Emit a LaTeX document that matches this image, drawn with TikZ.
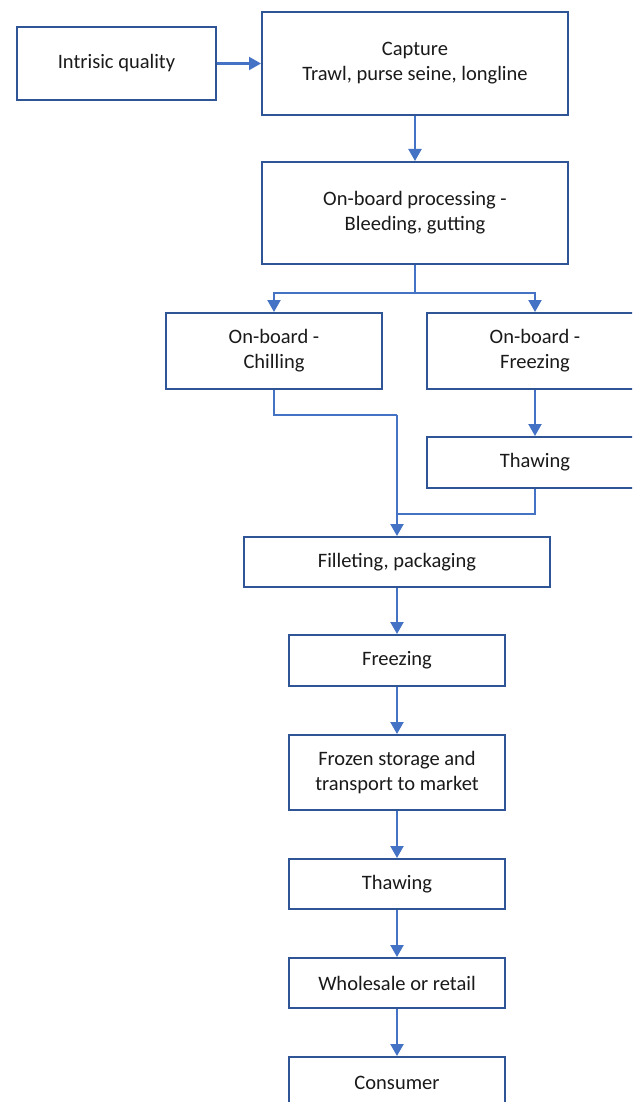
\documentclass[tikz,border=0pt]{standalone}
\usepackage{fontspec}
\setmainfont{Carlito}
\usetikzlibrary{arrows.meta}
\definecolor{boxblue}{HTML}{2F5597}
\definecolor{linkblue}{HTML}{4472C4}
\definecolor{txt}{HTML}{1A1A1A}
\tikzset{
  stepbox/.style={draw=boxblue, line width=2pt, fill=white, inner sep=0pt,
    align=center, text=txt, font=\fontsize{20.5}{25}\selectfont},
  link/.style={draw=linkblue, line width=2.2pt},
  arr/.style={link, -{Triangle[length=12pt,width=13pt]}},
}
\newcommand{\bx}[6]{% name, x1, y1, x2, y2, text
  \node[stepbox, minimum width={#4-#2}, minimum height={#5-#3}]
    (#1) at ({(#2+#4)/2},{(#3+#5)/2}) {#6};}
\begin{document}
\begin{tikzpicture}[x=1pt,y=-1pt]
\useasboundingbox (0,0) rectangle (632,1102);
\clip (0,0) rectangle (632,1102);
\fill[white] (0,0) rectangle (632,1102);
\bx{intr}{17}{27}{216}{100}{Intrisic quality}
\bx{cap}{262}{12}{568}{115}{Capture\\Trawl, purse seine, longline}
\bx{proc}{262}{162}{568}{264}{On-board processing -\\Bleeding, gutting}
\bx{chill}{166}{313}{382}{389}{On-board -\\Chilling}
\bx{frz}{427}{313}{643}{389}{On-board -\\Freezing}
\bx{thawa}{427}{437}{643}{488}{Thawing}
\bx{fill}{244}{537}{550}{587}{Filleting, packaging}
\bx{freeze}{289}{635}{505}{686}{Freezing}
\bx{store}{289}{735}{505}{810}{Frozen storage and\\transport to market}
\bx{thawb}{289}{859}{505}{909}{Thawing}
\bx{whole}{289}{958}{505}{1008}{Wholesale or retail}
\bx{cons}{289}{1057}{505}{1108}{Consumer}

\coordinate (b1) at (415,293);
\coordinate (c1) at (397,415);
\coordinate (c2) at (397,514);

\draw[arr] (intr.east) -- (cap.west);
\draw[arr] (cap.south) -- (proc.north);
\draw[link] (proc.south) -- (b1);
\draw[arr] (b1) -| (chill.north);
\draw[arr] (b1) -| (frz.north);
\draw[arr] (frz.south) -- (thawa.north);
\draw[link] (chill.south) |- (c1);
\draw[arr] (c1) -- (fill.north);
\draw[link] (thawa.south) |- (c2);
\draw[arr] (fill.south) -- (freeze.north);
\draw[arr] (freeze.south) -- (store.north);
\draw[arr] (store.south) -- (thawb.north);
\draw[arr] (thawb.south) -- (whole.north);
\draw[arr] (whole.south) -- (cons.north);
\end{tikzpicture}
\end{document}
